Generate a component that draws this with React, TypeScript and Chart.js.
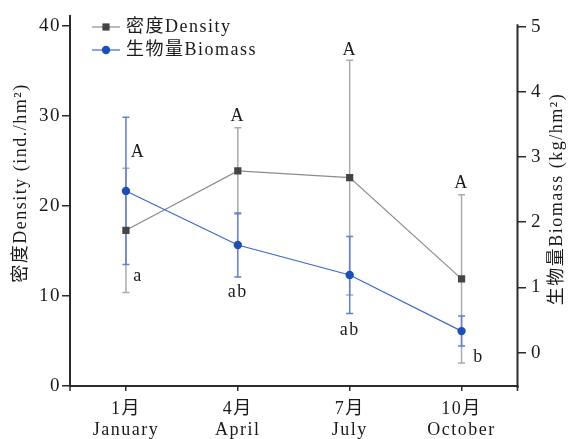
import React, { useEffect, useRef } from "react";
import { Chart, registerables } from "chart.js";
Chart.register(...registerables);

const months = [["1月", "January"], ["4月", "April"], ["7月", "July"], ["10月", "October"]];
const densityMean = [17.3, 23.9, 23.15, 11.9];
const densitySD = [6.9, 4.8, 13.05, 9.35];
const biomassMean = [2.48, 1.65, 1.19, 0.33];
const biomassSD = [1.13, 0.49, 0.59, 0.23];
const densityLetters = ["A", "A", "A", "A"];
const biomassLetters = ["a", "ab", "ab", "b"];
const densityTicks = [0, 10, 20, 30, 40];
const biomassTicks = [0, 1, 2, 3, 4, 5];

const FONT = "'Liberation Serif', 'Times New Roman', 'Noto Sans CJK SC', serif";
const AXIS = "#2b2b2b";
const GRAY_LINE = "#8c8c8c";
const GRAY_BAR = "#ababab";
const GRAY_MARK = "#444444";
const BLUE_LINE = "#3f66cc";
const BLUE_BAR = "#5f7fd6";
const BLUE_MARK = "#1b4fb8";
const TEXT = "#1a1a1a";

// letter placement (pixel offsets from the error-bar end they belong to)
const densityLetterOffsets = [[12, -16], [0, -11], [0, -10], [0, -11]];
const biomassLetterOffsets = [[12, 12], [0, 15], [0, 17], [17, 11]];

const spacingPlugin = {
  id: "spacing",
  beforeDraw(chart: any) {
    (chart.ctx as any).letterSpacing = "1.5px";
  },
};

const errorBarPlugin = {
  id: "errorBars",
  beforeDatasetsDraw(chart: any) {
    const ctx = chart.ctx;
    const xs = chart.scales.x;
    const draw = (ys: any, means: number[], sds: number[], color: string) => {
      ctx.save();
      ctx.strokeStyle = color;
      ctx.lineWidth = 1.5;
      const cap = 3.5;
      means.forEach((m, i) => {
        const px = xs.getPixelForValue(i);
        const top = ys.getPixelForValue(m + sds[i]);
        const bot = ys.getPixelForValue(m - sds[i]);
        ctx.beginPath();
        ctx.moveTo(px, top);
        ctx.lineTo(px, bot);
        ctx.moveTo(px - cap, top);
        ctx.lineTo(px + cap, top);
        ctx.moveTo(px - cap, bot);
        ctx.lineTo(px + cap, bot);
        ctx.stroke();
      });
      ctx.restore();
    };
    draw(chart.scales.y, densityMean, densitySD, GRAY_BAR);
    draw(chart.scales.y1, biomassMean, biomassSD, BLUE_BAR);
  },
};

const decorPlugin = {
  id: "decor",
  afterDraw(chart: any) {
    const ctx = chart.ctx;
    const { left, right, bottom } = chart.chartArea;
    const xs = chart.scales.x;
    const y = chart.scales.y;
    const y1 = chart.scales.y1;
    ctx.save();
    (ctx as any).letterSpacing = "1.5px";
    // right axis line
    ctx.strokeStyle = AXIS;
    ctx.lineWidth = 2;
    ctx.beginPath();
    ctx.moveTo(right, y1.getPixelForValue(5) - 2.5);
    ctx.lineTo(right, bottom + 2);
    ctx.stroke();
    // edge ticks on x axis
    ctx.lineWidth = 1.5;
    ctx.beginPath();
    ctx.moveTo(left, bottom);
    ctx.lineTo(left, bottom + 5);
    ctx.moveTo(right, bottom);
    ctx.lineTo(right, bottom + 5);
    ctx.stroke();

    // letters
    ctx.fillStyle = TEXT;
    ctx.font = `18px ${FONT}`;
    ctx.textAlign = "center";
    ctx.textBaseline = "middle";
    densityLetters.forEach((t, i) => {
      const px = xs.getPixelForValue(i) + densityLetterOffsets[i][0];
      const py = y.getPixelForValue(densityMean[i] + densitySD[i]) + densityLetterOffsets[i][1];
      ctx.fillText(t, px, py);
    });
    biomassLetters.forEach((t, i) => {
      const px = xs.getPixelForValue(i) + biomassLetterOffsets[i][0];
      const py = y1.getPixelForValue(biomassMean[i] - biomassSD[i]) + biomassLetterOffsets[i][1];
      ctx.fillText(t, px, py);
    });

    // axis titles
    ctx.save();
    ctx.translate(21, 183);
    ctx.rotate(-Math.PI / 2);
    ctx.fillText("密度Density (ind./hm²)", 0, 0);
    ctx.restore();
    ctx.save();
    ctx.translate(557, 199);
    ctx.rotate(-Math.PI / 2);
    ctx.fillText("生物量Biomass (kg/hm²)", 0, 0);
    ctx.restore();

    // legend
    const rows = [
      { label: chart.data.datasets[0].label, line: GRAY_LINE, mark: GRAY_MARK, shape: "rect", yy: 27 },
      { label: chart.data.datasets[1].label, line: BLUE_LINE, mark: BLUE_MARK, shape: "circle", yy: 50 },
    ];
    rows.forEach((r) => {
      ctx.strokeStyle = r.line;
      ctx.lineWidth = 1.2;
      ctx.beginPath();
      ctx.moveTo(92, r.yy);
      ctx.lineTo(120, r.yy);
      ctx.stroke();
      ctx.fillStyle = r.mark;
      if (r.shape === "rect") {
        ctx.fillRect(106 - 3.6, r.yy - 3.6, 7.2, 7.2);
      } else {
        ctx.beginPath();
        ctx.arc(106, r.yy, 4.2, 0, Math.PI * 2);
        ctx.fill();
      }
      ctx.fillStyle = TEXT;
      ctx.textAlign = "left";
      ctx.fillText(r.label, 126, r.yy);
    });
    ctx.restore();
  },
};

export default function App() {
  const ref = useRef<HTMLCanvasElement | null>(null);
  useEffect(() => {
    if (!ref.current) return;
    const tickFont = { family: FONT, size: 18, lineHeight: 1.15 };
    const yTickFont = { family: FONT, size: 19 };
    const chart = new Chart(ref.current, {
      type: "line",
      data: {
        labels: months,
        datasets: [
          {
            label: "密度Density",
            data: densityMean,
            yAxisID: "y",
            borderColor: GRAY_LINE,
            borderWidth: 1.2,
            pointStyle: "rect",
            pointRadius: 5.1,
            pointBackgroundColor: GRAY_MARK,
            pointBorderColor: GRAY_MARK,
            pointBorderWidth: 0,
            order: 2,
          },
          {
            label: "生物量Biomass",
            data: biomassMean,
            yAxisID: "y1",
            borderColor: BLUE_LINE,
            borderWidth: 1.2,
            pointStyle: "circle",
            pointRadius: 4.2,
            pointBackgroundColor: BLUE_MARK,
            pointBorderColor: BLUE_MARK,
            pointBorderWidth: 0,
            order: 1,
          },
        ],
      },
      options: {
        animation: false,
        responsive: false,
        layout: { padding: { top: 13, left: 0, right: 0, bottom: 0 } },
        plugins: { legend: { display: false }, tooltip: { enabled: false } },
        scales: {
          x: {
            type: "category",
            offset: true,
            grid: { display: true, drawOnChartArea: false, drawTicks: true, tickLength: 5, color: AXIS, lineWidth: 1.5 },
            border: { display: true, color: AXIS, width: 2 },
            ticks: { font: tickFont, color: TEXT, padding: 8, maxRotation: 0, autoSkip: false },
            afterFit: (s: any) => { s.height = 53; },
          },
          y: {
            type: "linear",
            position: "left",
            min: 0,
            max: 41.07,
            afterBuildTicks: (s: any) => { s.ticks = densityTicks.map((v) => ({ value: v })); },
            grid: { display: true, drawOnChartArea: false, drawTicks: true, tickLength: 8, color: AXIS, lineWidth: 1.5 },
            border: { display: true, color: AXIS, width: 2 },
            ticks: { font: yTickFont, color: TEXT, padding: 1 },
            afterFit: (s: any) => { s.width = 70; },
          },
          y1: {
            type: "linear",
            position: "right",
            min: -0.512,
            max: 5.157,
            afterBuildTicks: (s: any) => { s.ticks = biomassTicks.map((v) => ({ value: v })); },
            grid: { display: true, drawOnChartArea: false, drawTicks: true, tickLength: 8.5, color: AXIS, lineWidth: 1.5 },
            border: { display: false },
            ticks: { font: yTickFont, color: TEXT, padding: 5 },
            afterFit: (s: any) => { s.width = 55.5; },
          },
        },
      },
      plugins: [spacingPlugin, errorBarPlugin, decorPlugin],
    } as any);
    return () => chart.destroy();
  }, []);
  return (
    <div style={{ position: "absolute", left: 0, top: 0, width: 573, height: 439 }}>
      <canvas ref={ref} width={573} height={439} style={{ display: "block" }} />
    </div>
  );
}
